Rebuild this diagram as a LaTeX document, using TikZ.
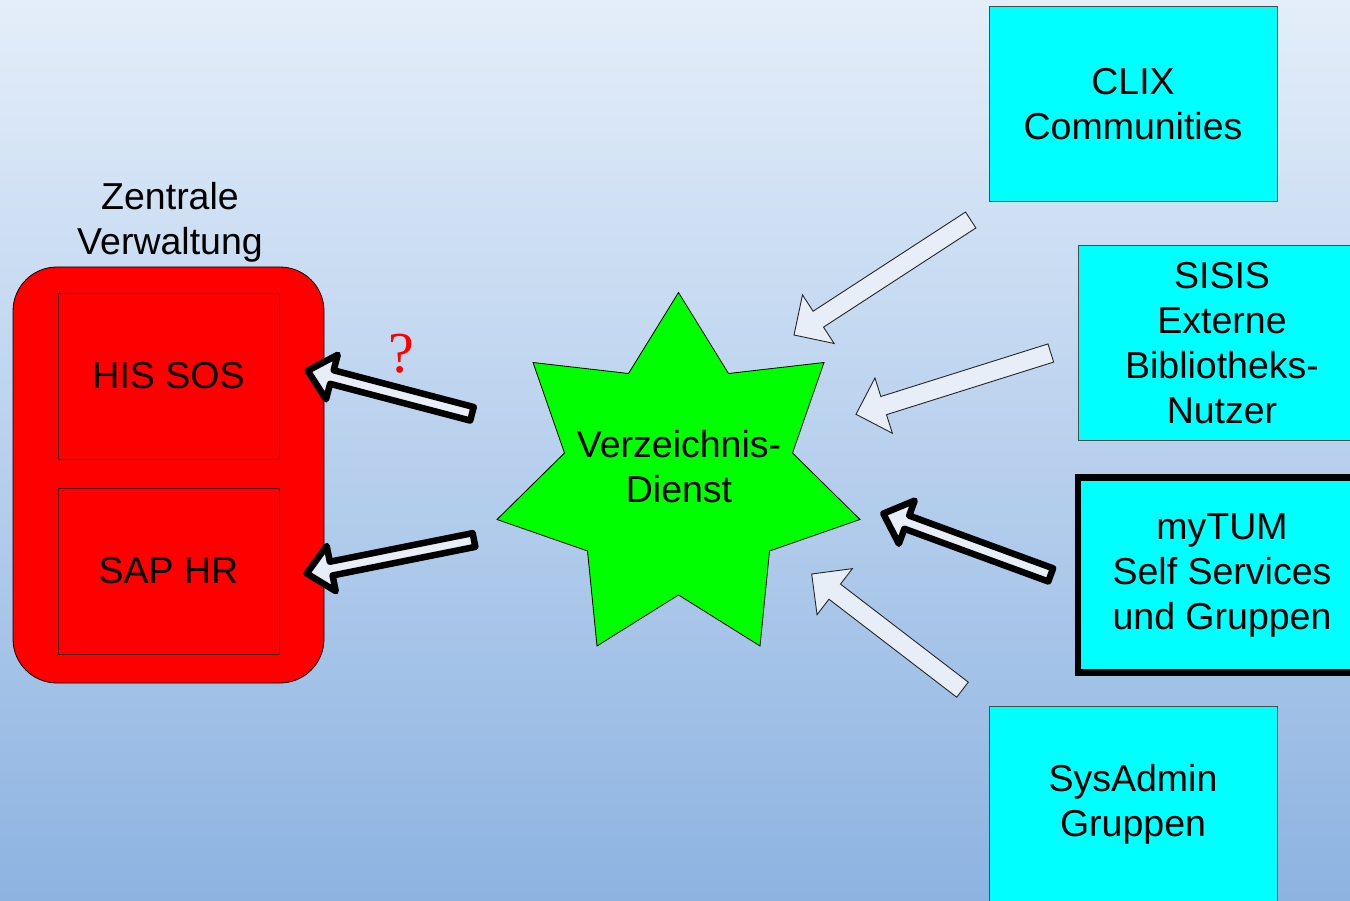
\documentclass[tikz,border=0pt]{standalone}
\usepackage{fontspec}
\setmainfont{Liberation Sans}
\newfontfamily\qfont{Liberation Serif}
\usetikzlibrary{calc}
\definecolor{bgtop}{HTML}{E4EEFA}
\definecolor{bgbot}{HTML}{8DB3E1}
\definecolor{arrfill}{HTML}{E8EEF8}
\definecolor{cyanbox}{RGB}{0,255,255}
\definecolor{redfill}{RGB}{255,0,0}
\definecolor{greenfill}{RGB}{0,255,0}
\newcommand\blockarrow[6]{%
  \path ($(#3)!#6!(#2)$) coordinate (hb);
  \draw[#1] ($(#2)!#4!90:(#3)$) -- ($(hb)!#4!90:(#3)$) -- ($(hb)!#5!90:(#3)$) -- (#3)
    -- ($(hb)!#5!-90:(#3)$) -- ($(hb)!#4!-90:(#3)$) -- ($(#2)!#4!-90:(#3)$) -- cycle;
}
\tikzset{
  lbl/.style={font=\fontsize{37.5}{45}\selectfont, align=center},
  sysbox/.style={lbl, draw=black!70, line width=0.8pt, fill=cyanbox, inner sep=0pt, minimum width=288pt, minimum height=195pt},
  redbox/.style={lbl, draw=black!70!red, line width=0.8pt, fill=redfill, inner sep=0pt, minimum width=221pt, minimum height=166pt},
  thinarrow/.style={fill=arrfill, draw=black!85, line width=0.9pt, line join=miter},
  thickarrow/.style={fill=arrfill, draw=black, line width=6.5pt, line join=round}
}
\begin{document}
\begin{tikzpicture}[x=1pt,y=-1pt]
\useasboundingbox (0,0) rectangle (1350,901);
\clip (0,0) rectangle (1350,901);
\shade[top color=bgtop, bottom color=bgbot] (0,0) rectangle (1350,901);

% left: central administration
\node[lbl] (zvtitle) at (170,222) {Zentrale\\Verwaltung};
\node[draw=black, line width=0.8pt, fill=redfill, rounded corners=44pt, minimum width=311pt, minimum height=416pt, inner sep=0pt] (zv) at (168.5,475) {};
\node[redbox] (his) at (168.5,376) {HIS SOS};
\node[redbox] (sap) at (168.5,571) {SAP HR};

% star
\draw[fill=greenfill, draw=black, line width=0.8pt]
  (678.5,292.5) -- (728.5,373.5) -- (824,362.5) -- (792.5,453) -- (860,519.5)
  -- (769.5,551) -- (760,646) -- (678.5,595) -- (597,646) -- (587.5,551)
  -- (497,519.5) -- (564.5,453) -- (533,362.5) -- (628.5,373.5) -- cycle;
\node[lbl] (vd) at (679,467) {Verzeichnis-\\Dienst};

% right boxes
\node[sysbox] (clix) at (1133,104) {CLIX\\Communities};
\node[sysbox] (sisis) at (1222,343) {SISIS\\Externe\\Bibliotheks-\\Nutzer};
\node[sysbox, draw=black, line width=6.5pt] (mytum) at (1222,575) {myTUM\\Self Services\\und Gruppen};
\node[sysbox] (sysadmin) at (1133,804) {SysAdmin\\Gruppen};

% arrow endpoints
\coordinate (a1t) at (970.7,220);   \coordinate (a1h) at (794,335);
\coordinate (a2t) at (1050.8,353);  \coordinate (a2h) at (856,414.3);
\coordinate (a3t) at (1050.7,574.9);\coordinate (a3h) at (883.3,513.6);
\coordinate (a4t) at (962.5,689.7); \coordinate (a4h) at (811.7,574);
\coordinate (a5t) at (472,413.8);   \coordinate (a5h) at (307.7,370.7);
\coordinate (a6t) at (474,540);     \coordinate (a6h) at (306.7,573.5);

\blockarrow{thinarrow}{a1t}{a1h}{9.5pt}{29pt}{29pt}
\blockarrow{thinarrow}{a2t}{a2h}{9.5pt}{29pt}{29pt}
\blockarrow{thinarrow}{a4t}{a4h}{9.5pt}{29pt}{29pt}
\blockarrow{thickarrow}{a3t}{a3h}{7pt}{23pt}{25pt}
\blockarrow{thickarrow}{a5t}{a5h}{7pt}{23pt}{25pt}
\blockarrow{thickarrow}{a6t}{a6h}{7pt}{23pt}{25pt}

\node[text=redfill, font=\qfont\fontsize{58}{60}\selectfont, inner sep=0pt] (q) at (401,354) {?};
\end{tikzpicture}
\end{document}
